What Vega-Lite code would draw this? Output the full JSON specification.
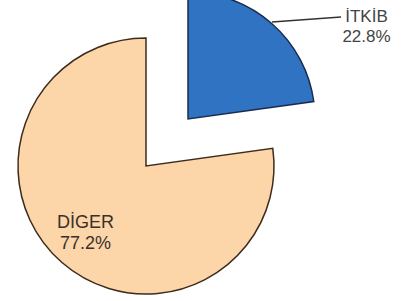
{
  "$schema": "https://vega.github.io/schema/vega-lite/v6.json",
  "width": 292,
  "height": 332,
  "autosize": {"type": "none"},
  "padding": {"left": 0, "top": 0, "right": 121, "bottom": 0},
  "background": "white",
  "config": {"view": {"stroke": null}},
  "data": {"values": [
    {"name": "İTKİB", "value": 22.8},
    {"name": "DİGER", "value": 77.2}
  ]},
  "transform": [
    {"stack": "value", "groupby": [], "as": ["v0", "v1"], "sort": [{"field": "name", "order": "descending"}]},
    {"calculate": "(datum.v0 + datum.v1) / 2", "as": "mid"},
    {"calculate": "datum.name + '\\n' + format(datum.value, '.1f') + '%'", "as": "label"}
  ],
  "layer": [
    {
      "transform": [{"filter": "datum.name == 'DİGER'"}],
      "mark": {"type": "arc", "radius": 128, "fill": "#FCD5A9", "stroke": "#3d2c1c", "strokeWidth": 1.5},
      "encoding": {
        "theta": {"field": "v0", "type": "quantitative", "scale": {"domain": [0, 100]}},
        "theta2": {"field": "v1"}
      }
    },
    {
      "transform": [{"filter": "datum.name == 'İTKİB'"}],
      "mark": {"type": "arc", "radius": 127, "fill": "#2F73C2", "stroke": "#1c2c50", "strokeWidth": 1.5, "xOffset": 42, "yOffset": -47},
      "encoding": {
        "theta": {"field": "v0", "type": "quantitative", "scale": {"domain": [0, 100]}},
        "theta2": {"field": "v1"}
      }
    },
    {
      "transform": [{"filter": "datum.name == 'İTKİB'"}],
      "mark": {"type": "rule", "stroke": "#333333", "strokeWidth": 1.5},
      "encoding": {
        "x": {"value": 272},
        "y": {"value": 22},
        "x2": {"value": 341},
        "y2": {"value": 17}
      }
    },
    {
      "transform": [{"filter": "datum.name == 'DİGER'"}],
      "mark": {"type": "text", "radius": 89, "xOffset": -2, "yOffset": -10, "font": "Liberation Sans", "fontSize": 18, "lineHeight": 21, "lineBreak": "\n", "align": "center", "baseline": "middle", "fill": "#3a3028"},
      "encoding": {
        "theta": {"field": "mid", "type": "quantitative", "scale": {"domain": [0, 100]}},
        "text": {"field": "label"}
      }
    },
    {
      "transform": [{"filter": "datum.name == 'İTKİB'"}],
      "mark": {"type": "text", "radius": 150, "xOffset": 122, "yOffset": -36, "font": "Liberation Sans", "fontSize": 17, "lineHeight": 20, "lineBreak": "\n", "align": "center", "baseline": "middle", "fill": "#444444"},
      "encoding": {
        "theta": {"field": "mid", "type": "quantitative", "scale": {"domain": [0, 100]}},
        "text": {"field": "label"}
      }
    }
  ]
}
